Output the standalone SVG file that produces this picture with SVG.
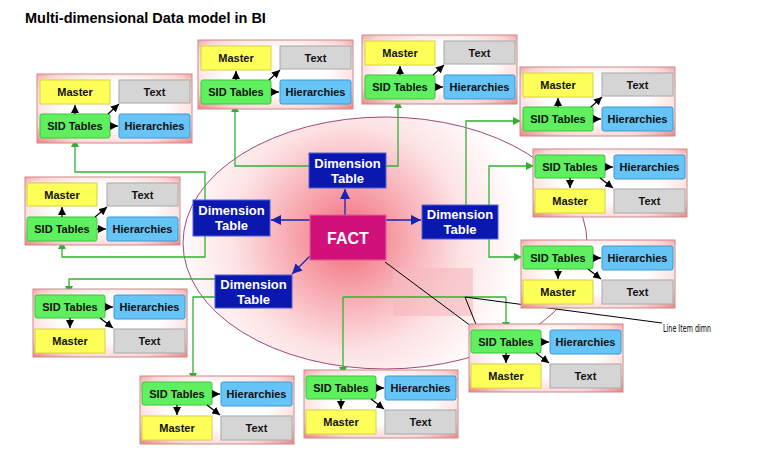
<svg xmlns="http://www.w3.org/2000/svg" width="758" height="458" viewBox="0 0 758 458">
<defs>
<radialGradient id="gf" cx="0.5" cy="0.45" r="0.72">
<stop offset="0.45" stop-color="#ffffff"/>
<stop offset="0.8" stop-color="#fbd6d6"/>
<stop offset="1" stop-color="#ef8c8c"/>
</radialGradient>
<radialGradient id="ge" gradientUnits="userSpaceOnUse" cx="348" cy="238" r="175">
<stop offset="0" stop-color="#f2687a"/>
<stop offset="0.3" stop-color="#f7a4ac"/>
<stop offset="0.65" stop-color="#fde2e4"/>
<stop offset="1" stop-color="#ffffff"/>
</radialGradient>
<marker id="ab" markerUnits="userSpaceOnUse" markerWidth="8" markerHeight="8" refX="8" refY="4" orient="auto">
<path d="M0,0 L8,4 L0,8 z" fill="#000"/>
</marker>
<marker id="ag" markerUnits="userSpaceOnUse" markerWidth="8" markerHeight="8" refX="8" refY="4" orient="auto">
<path d="M0,0 L8,4 L0,8 z" fill="#33b033"/>
</marker>
<marker id="au" markerUnits="userSpaceOnUse" markerWidth="10" markerHeight="10" refX="10" refY="5" orient="auto">
<path d="M0,0 L10,5 L0,10 z" fill="#1a22b0"/>
</marker>
</defs>
<style>
.fr{fill:url(#gf);stroke:#c98a8a;stroke-width:1}
.ma{fill:#ffff5a;stroke:#d8d040;stroke-width:1}
.tx{fill:#d5d5d5;stroke:#a8a8a8;stroke-width:1}
.sid{fill:#5ff05f;stroke:#3cc43c;stroke-width:1}
.hi{fill:#66c4f6;stroke:#3a98d6;stroke-width:1}
.lb{font:bold 11px "Liberation Sans",Arial,sans-serif;fill:#111;text-anchor:middle}
.ar{stroke:#000;stroke-width:1.2;fill:none;marker-end:url(#ab)}
.gr{stroke:#33b033;stroke-width:1.3;fill:none}
.ga{stroke:#33b033;stroke-width:1.3;fill:none;marker-end:url(#ag)}
.bl{stroke:#1a22b0;stroke-width:1.3;fill:none;marker-end:url(#au)}
.bk{stroke:#000;stroke-width:1;fill:none}
.dim{fill:#0a18b0;stroke:#5060d0;stroke-width:1}
.dl{font:bold 13px "Liberation Sans",Arial,sans-serif;fill:#fff;text-anchor:middle}
</style>
<rect width="758" height="458" fill="#fff"/>
<text x="25" y="23" style="font:bold 14.5px 'Liberation Sans',Arial,sans-serif" fill="#000">Multi-dimensional Data model in BI</text>
<ellipse cx="385" cy="243" rx="202" ry="126" fill="url(#ge)" stroke="#a04a78" stroke-width="1"/>
<rect x="393" y="268" width="80" height="48" fill="#f7b8be" opacity="0.6"/>

<g id="connectors">
<path class="ga" d="M205,200 V172 H75 V139"/>
<path class="ga" d="M205,236 V257 H62 V241"/>
<path class="ga" d="M309,166 H235 V104"/>
<path class="ga" d="M386,166 H398 V100"/>
<path class="ga" d="M466,205 V121 H521"/>
<path class="ga" d="M489,205 V166 H534"/>
<path class="ga" d="M489,239 V257 H522"/>
<path class="ga" d="M215,279 H69 V294"/>
<path class="ga" d="M215,297 H193 V381"/>
<path class="gr" d="M343,297 H506"/>
<path class="ga" d="M506,297 V330"/>
<path class="ga" d="M343,297 V375"/>
<path class="bk" d="M385,262 L479,332"/>
<path class="bk" d="M465,297 L479,332"/>
<path class="bk" d="M465,297 L662,323"/>
<path class="bl" d="M345,215 V189"/>
<path class="bl" d="M310,220 H271"/>
<path class="bl" d="M386,220 H421"/>
<path class="bl" d="M310,256 L292,274"/>
</g>

<g id="fact">
<rect x="310" y="215" width="76" height="45" fill="#d2107a" stroke="#e060a0" stroke-width="1"/>
<text x="348" y="244" style="font:bold 16px 'Liberation Sans',Arial,sans-serif" fill="#fff" text-anchor="middle">FACT</text>
</g>
<g id="dim-top">
<rect class="dim" x="309" y="153" width="77" height="35"/>
<text class="dl" x="347.5" y="168">Dimension</text><text class="dl" x="347.5" y="183">Table</text>
</g>
<g id="dim-left">
<rect class="dim" x="193" y="200" width="77" height="36"/>
<text class="dl" x="231.5" y="215">Dimension</text><text class="dl" x="231.5" y="230">Table</text>
</g>
<g id="dim-right">
<rect class="dim" x="422" y="205" width="76" height="34"/>
<text class="dl" x="460" y="219">Dimension</text><text class="dl" x="460" y="234">Table</text>
</g>
<g id="dim-bottom">
<rect class="dim" x="215" y="275" width="77" height="33"/>
<text class="dl" x="253.5" y="289">Dimension</text><text class="dl" x="253.5" y="304">Table</text>
</g>

<g id="g1" transform="translate(37,74)">
<rect class="fr" width="155" height="69"/>
<rect class="ma" x="3" y="6" width="70" height="24"/><rect class="tx" x="82" y="6" width="71" height="23"/>
<rect class="sid" x="3" y="40" width="70" height="24" rx="2"/><rect class="hi" x="82" y="40" width="71" height="24" rx="2"/>
<text class="lb" x="38" y="22">Master</text><text class="lb" x="117.5" y="22">Text</text>
<text class="lb" x="38" y="56">SID Tables</text><text class="lb" x="117.5" y="56">Hierarchies</text>
<path class="ar" d="M38,40 V31"/><path class="ar" d="M71,40 L82,30"/><path class="ar" d="M73,52 H81"/>
</g>
<g id="g2" transform="translate(198,40)">
<rect class="fr" width="155" height="69"/>
<rect class="ma" x="3" y="6" width="70" height="24"/><rect class="tx" x="82" y="6" width="71" height="23"/>
<rect class="sid" x="3" y="40" width="70" height="24" rx="2"/><rect class="hi" x="82" y="40" width="71" height="24" rx="2"/>
<text class="lb" x="38" y="22">Master</text><text class="lb" x="117.5" y="22">Text</text>
<text class="lb" x="38" y="56">SID Tables</text><text class="lb" x="117.5" y="56">Hierarchies</text>
<path class="ar" d="M38,40 V31"/><path class="ar" d="M71,40 L82,30"/><path class="ar" d="M73,52 H81"/>
</g>
<g id="g3" transform="translate(362,35)">
<rect class="fr" width="155" height="69"/>
<rect class="ma" x="3" y="6" width="70" height="24"/><rect class="tx" x="82" y="6" width="71" height="23"/>
<rect class="sid" x="3" y="40" width="70" height="24" rx="2"/><rect class="hi" x="82" y="40" width="71" height="24" rx="2"/>
<text class="lb" x="38" y="22">Master</text><text class="lb" x="117.5" y="22">Text</text>
<text class="lb" x="38" y="56">SID Tables</text><text class="lb" x="117.5" y="56">Hierarchies</text>
<path class="ar" d="M38,40 V31"/><path class="ar" d="M71,40 L82,30"/><path class="ar" d="M73,52 H81"/>
</g>
<g id="g4" transform="translate(520,67)">
<rect class="fr" width="155" height="69"/>
<rect class="ma" x="3" y="6" width="70" height="24"/><rect class="tx" x="82" y="6" width="71" height="23"/>
<rect class="sid" x="3" y="40" width="70" height="24" rx="2"/><rect class="hi" x="82" y="40" width="71" height="24" rx="2"/>
<text class="lb" x="38" y="22">Master</text><text class="lb" x="117.5" y="22">Text</text>
<text class="lb" x="38" y="56">SID Tables</text><text class="lb" x="117.5" y="56">Hierarchies</text>
<path class="ar" d="M38,40 V31"/><path class="ar" d="M71,40 L82,30"/><path class="ar" d="M73,52 H81"/>
</g>
<g id="g5" transform="translate(25,177)">
<rect class="fr" width="155" height="68"/>
<rect class="ma" x="2" y="6" width="70" height="23"/><rect class="tx" x="82" y="6" width="71" height="23"/>
<rect class="sid" x="2" y="40" width="70" height="24" rx="2"/><rect class="hi" x="82" y="40" width="71" height="24" rx="2"/>
<text class="lb" x="37" y="22">Master</text><text class="lb" x="117.5" y="22">Text</text>
<text class="lb" x="37" y="56">SID Tables</text><text class="lb" x="117.5" y="56">Hierarchies</text>
<path class="ar" d="M37,40 V30"/><path class="ar" d="M70,40 L82,30"/><path class="ar" d="M72,52 H81"/>
</g>

<g id="g6" transform="translate(533,149)">
<rect class="fr" width="154" height="68"/>
<rect class="sid" x="2" y="6" width="70" height="23" rx="2"/><rect class="hi" x="81" y="6" width="71" height="24" rx="2"/>
<rect class="ma" x="2" y="40" width="70" height="24"/><rect class="tx" x="81" y="40" width="71" height="24"/>
<text class="lb" x="37" y="22">SID Tables</text><text class="lb" x="116.5" y="22">Hierarchies</text>
<text class="lb" x="37" y="56">Master</text><text class="lb" x="116.5" y="56">Text</text>
<path class="ar" d="M37,29 V39"/><path class="ar" d="M72,18 H80"/><path class="ar" d="M67,29 L80,39"/>
</g>
<g id="g7" transform="translate(521,240)">
<rect class="fr" width="154" height="68"/>
<rect class="sid" x="2" y="6" width="70" height="23" rx="2"/><rect class="hi" x="81" y="6" width="71" height="24" rx="2"/>
<rect class="ma" x="2" y="40" width="70" height="24"/><rect class="tx" x="81" y="40" width="71" height="24"/>
<text class="lb" x="37" y="22">SID Tables</text><text class="lb" x="116.5" y="22">Hierarchies</text>
<text class="lb" x="37" y="56">Master</text><text class="lb" x="116.5" y="56">Text</text>
<path class="ar" d="M37,29 V39"/><path class="ar" d="M72,18 H80"/><path class="ar" d="M67,29 L80,39"/>
</g>
<g id="g8" transform="translate(469,324)">
<rect class="fr" width="154" height="68"/>
<rect class="sid" x="2" y="6" width="70" height="23" rx="2"/><rect class="hi" x="81" y="6" width="71" height="24" rx="2"/>
<rect class="ma" x="2" y="40" width="70" height="24"/><rect class="tx" x="81" y="40" width="71" height="24"/>
<text class="lb" x="37" y="22">SID Tables</text><text class="lb" x="116.5" y="22">Hierarchies</text>
<text class="lb" x="37" y="56">Master</text><text class="lb" x="116.5" y="56">Text</text>
<path class="ar" d="M37,29 V39"/><path class="ar" d="M72,18 H80"/><path class="ar" d="M67,29 L80,39"/>
</g>
<g id="g9" transform="translate(33,289)">
<rect class="fr" width="154" height="68"/>
<rect class="sid" x="2" y="6" width="70" height="23" rx="2"/><rect class="hi" x="81" y="6" width="71" height="24" rx="2"/>
<rect class="ma" x="2" y="40" width="70" height="24"/><rect class="tx" x="81" y="40" width="71" height="24"/>
<text class="lb" x="37" y="22">SID Tables</text><text class="lb" x="116.5" y="22">Hierarchies</text>
<text class="lb" x="37" y="56">Master</text><text class="lb" x="116.5" y="56">Text</text>
<path class="ar" d="M37,29 V39"/><path class="ar" d="M72,18 H80"/><path class="ar" d="M67,29 L80,39"/>
</g>
<g id="g10" transform="translate(140,376)">
<rect class="fr" width="154" height="68"/>
<rect class="sid" x="2" y="6" width="70" height="23" rx="2"/><rect class="hi" x="81" y="6" width="71" height="24" rx="2"/>
<rect class="ma" x="2" y="40" width="70" height="24"/><rect class="tx" x="81" y="40" width="71" height="24"/>
<text class="lb" x="37" y="22">SID Tables</text><text class="lb" x="116.5" y="22">Hierarchies</text>
<text class="lb" x="37" y="56">Master</text><text class="lb" x="116.5" y="56">Text</text>
<path class="ar" d="M37,29 V39"/><path class="ar" d="M72,18 H80"/><path class="ar" d="M67,29 L80,39"/>
</g>
<g id="g11" transform="translate(304,370)">
<rect class="fr" width="154" height="68"/>
<rect class="sid" x="2" y="6" width="70" height="23" rx="2"/><rect class="hi" x="81" y="6" width="71" height="24" rx="2"/>
<rect class="ma" x="2" y="40" width="70" height="24"/><rect class="tx" x="81" y="40" width="71" height="24"/>
<text class="lb" x="37" y="22">SID Tables</text><text class="lb" x="116.5" y="22">Hierarchies</text>
<text class="lb" x="37" y="56">Master</text><text class="lb" x="116.5" y="56">Text</text>
<path class="ar" d="M37,29 V39"/><path class="ar" d="M72,18 H80"/><path class="ar" d="M67,29 L80,39"/>
</g>
<text x="663" y="332" font-family="'Liberation Sans Narrow','DejaVu Sans Condensed',sans-serif" font-size="11" textLength="48" lengthAdjust="spacingAndGlyphs" fill="#000">Line Item dimn</text>
</svg>
